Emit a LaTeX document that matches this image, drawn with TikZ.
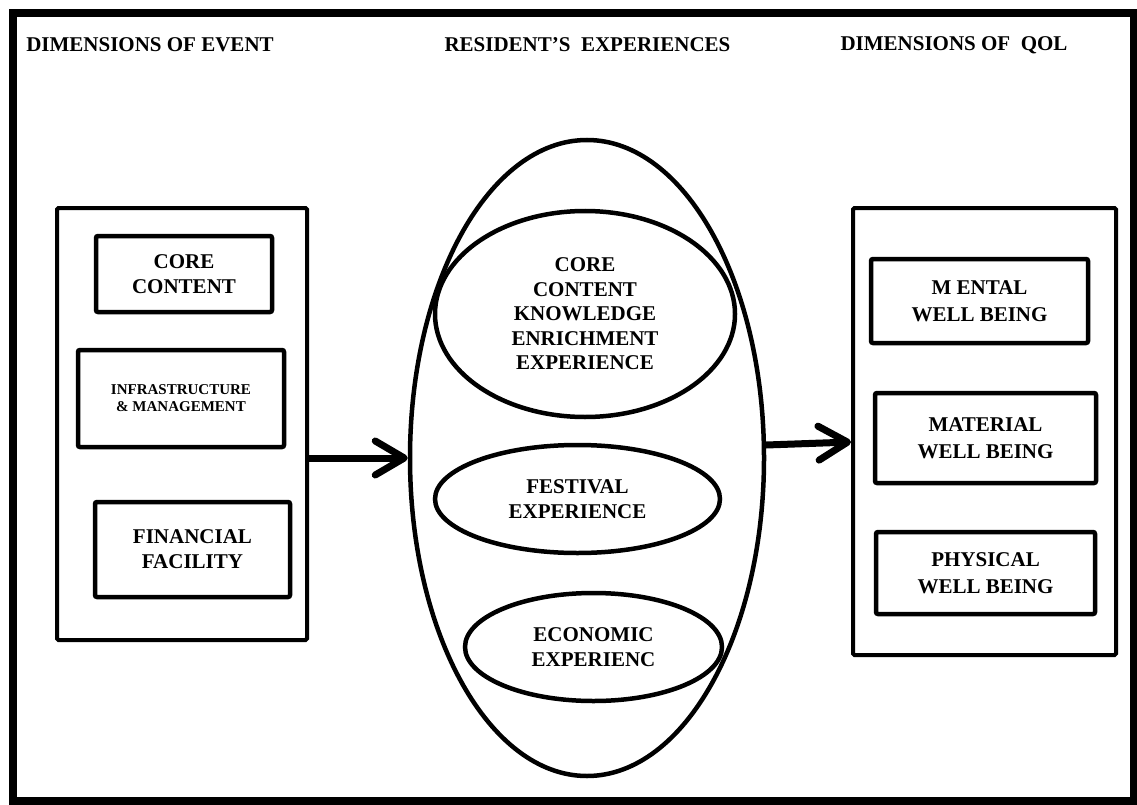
\documentclass[tikz,border=0pt]{standalone}
\usepackage{fontspec}
\setmainfont{Liberation Serif}
\usetikzlibrary{shapes.geometric,arrows.meta}

\begin{document}
\begin{tikzpicture}[x=1pt,y=-1pt,
  title/.style={font=\bfseries\fontsize{21}{25}\selectfont, inner sep=0pt},
  panel/.style={draw, line width=4pt, rounded corners=1.5pt, minimum width=#1},
  itembox/.style={draw, line width=4.5pt, rounded corners=2pt, align=center,
    font=\bfseries\fontsize{21}{25}\selectfont, inner sep=0pt},
  smallbox/.style={itembox, font=\bfseries\fontsize{15}{17}\selectfont},
  wellbox/.style={itembox, font=\bfseries\fontsize{21}{27}\selectfont},
  oval/.style={draw, ellipse, line width=4.5pt, inner sep=0pt, align=center,
    font=\bfseries\fontsize{21}{24.5}\selectfont},
  flow/.style={line width=7pt, line cap=round,
    -{Straight Barb[length=29pt, width=34pt, round]}}
]
\useasboundingbox (0,0) rectangle (1137,805);

% outer frame
\draw[line width=8pt] (12.5,13) rectangle (1133.5,801);

% column headings
\node[title] (h1) at (150,45) {DIMENSIONS OF EVENT};
\node[title] (h2) at (587.5,45) {RESIDENT’S\ \ EXPERIENCES};
\node[title] (h3) at (954,45) {DIMENSIONS OF\ \ QOL};

% event dimensions
\node[panel=250pt, minimum height=432pt] (lbox) at (182,424) {};
\node[itembox, minimum width=176pt, minimum height=76pt] (core) at (184,274) {CORE\\CONTENT};
\node[smallbox, minimum width=206pt, minimum height=97pt] (infra) at (181,398.5) {INFRASTRUCTURE\\\& MANAGEMENT};
\node[itembox, minimum width=195pt, minimum height=95pt] (fin) at (192.5,549.5) {FINANCIAL\\FACILITY};

% resident experiences
\node[oval, minimum width=354pt, minimum height=636pt] (big) at (587,458) {};
\node[oval, minimum width=300pt, minimum height=206pt] (cke) at (585,314) {CORE\\CONTENT\\KNOWLEDGE\\ENRICHMENT\\EXPERIENCE};
\node[oval, minimum width=285pt, minimum height=108pt] (fest) at (577.5,499) {FESTIVAL\\EXPERIENCE};
\node[oval, minimum width=257pt, minimum height=108pt] (econ) at (593.5,647) {ECONOMIC\\EXPERIENC};

% quality of life dimensions
\node[panel=263pt, minimum height=447pt] (rbox) at (984.5,431.5) {};
\node[wellbox, minimum width=217pt, minimum height=84pt] (mental) at (979.5,301) {M ENTAL\\WELL BEING};
\node[wellbox, minimum width=221pt, minimum height=90pt] (material) at (985.5,438) {MATERIAL\\WELL BEING};
\node[wellbox, minimum width=219pt, minimum height=82pt] (physical) at (985.5,573) {PHYSICAL\\WELL BEING};

% connectors
\draw[flow] ([yshift=-34pt]lbox.east) -- (big.west);
\draw[flow] ([yshift=13pt]big.east) -- ([yshift=-10.5pt]rbox.west);
\end{tikzpicture}
\end{document}
